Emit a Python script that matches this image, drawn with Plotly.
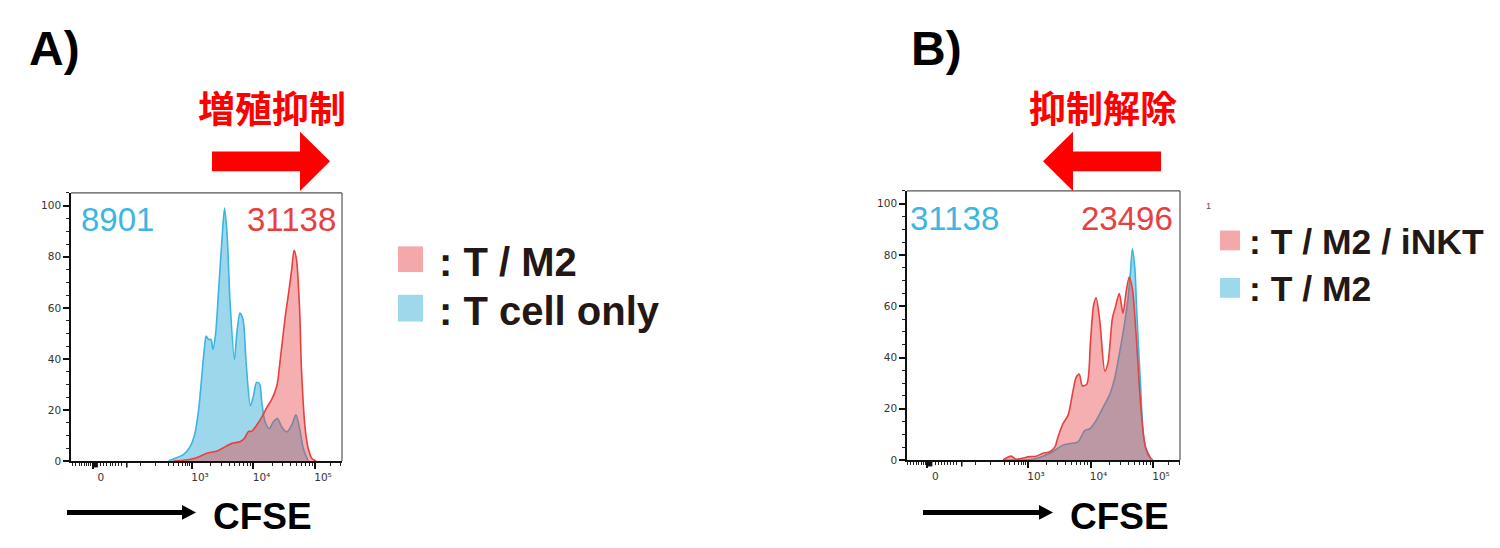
import math
import plotly.graph_objects as go

# ---------------- data (x = decade position on biexponential CFSE axis, y = % of max) -------------
a_blue_x = [2.62, 2.70, 2.865, 2.97, 3.04, 3.11, 3.16, 3.20, 3.23, 3.27, 3.31, 3.34, 3.38, 3.43, 3.49,
            3.53, 3.57, 3.62, 3.69, 3.73, 3.78, 3.83, 3.88, 3.95, 4.00, 4.05, 4.10, 4.135, 4.19, 4.26,
            4.32, 4.39, 4.46, 4.54, 4.62, 4.69, 4.75, 4.81, 4.89]
a_blue_y = [0, 0.8, 2.6, 5.6, 10, 20.4, 33.4, 43.7, 48.9, 47.6, 47.6, 43.7, 48.9, 65.7, 87.7,
            99.1, 89, 61.8, 39.8, 50.2, 58, 55.4, 38.6, 21.7, 25.6, 30.8, 30.1, 23, 15.3, 12.7,
            15.3, 16.6, 13.3, 11.4, 14, 18.1, 12.7, 4.9, 0]
a_red_x = [2.70, 2.865, 3.03, 3.135, 3.24, 3.41, 3.51, 3.65, 3.78, 3.85, 3.92, 3.97, 4.05, 4.135,
           4.22, 4.30, 4.38, 4.43, 4.51, 4.57, 4.62, 4.66, 4.70, 4.75, 4.78, 4.84, 4.89, 4.95, 5.02]
a_red_y = [0, 0.3, 1, 1.9, 3, 3.9, 5.2, 6.9, 7.5, 8.8, 11.6, 11.6, 14, 17.2,
           21.1, 24.3, 29.5, 38.6, 55.4, 65.7, 74.8, 82.5, 78.7, 59.2, 36, 12.7, 4.9, 1, 0]

b_blue_x = [2.60, 2.92, 3.13, 3.35, 3.56, 3.67, 3.80, 3.91, 3.99, 4.09, 4.23, 4.31, 4.39, 4.47,
            4.55, 4.60, 4.64, 4.67, 4.71, 4.74, 4.80, 4.85, 4.92, 5.00]
b_blue_y = [0, 0, 0.6, 2.6, 5.8, 6.4, 7.1, 11.6, 12.2, 15.4, 21.9, 25.7, 32.2, 42.5,
            54, 63, 73.4, 82.4, 74.6, 57.9, 29.6, 9, 1.9, 0]
b_red_x = [2.60, 2.73, 2.81, 2.89, 3.03, 3.13, 3.24, 3.35, 3.43, 3.48, 3.56, 3.64, 3.72, 3.77,
           3.82, 3.87, 3.94, 4.00, 4.05, 4.09, 4.15, 4.23, 4.28, 4.35, 4.40, 4.46, 4.52, 4.57,
           4.62, 4.67, 4.73, 4.81, 4.88, 4.97]
b_red_y = [0, 1.5, 0.3, 0.6, 1.3, 1.5, 2.6, 3.2, 5.1, 9, 14.2, 17.4, 27, 32.2,
           33.5, 29, 29.6, 46.3, 60.5, 63.3, 54, 34.7, 38, 55.3, 59.8, 65, 57.3, 65.6,
           71.4, 66.9, 48.9, 19.3, 5.1, 0.3]

a_stats = ["8901", "31138"]
b_stats = ["31138", "23496"]
a_names = [": T / M2", ": T cell only"]
b_names = [": T / M2 / iNKT", ": T / M2"]
x_tick_vals = [1.39, 3, 4, 5]
x_tick_text = ["0", "10³", "10⁴", "10⁵"]
y_tick_vals = [0, 20, 40, 60, 80, 100]

# ---------------- styling ----------------
W, H = 1500, 548
OFF = 8  # page body margin in the rendered page
BLUE_LINE = "#3BB4E5"
BLUE_FILL = "rgba(60,175,215,0.5)"
RED_LINE = "#E8403F"
RED_FILL = "rgba(232,64,66,0.42)"
STAT_BLUE = "#3DB6E3"
STAT_RED = "#E8403F"
INK = "#231815"


def fx(p):
    return (p - OFF) / W


def fy(p):
    return 1 - (p - OFF) / H


fig = go.Figure()


def add_curve(x, y, line, fill, xa, ya, name):
    fig.add_trace(go.Scatter(x=x, y=y, mode="lines", fill="tozeroy", fillcolor=fill,
                             line=dict(color=line, width=1.6, shape="spline", smoothing=0.8),
                             xaxis=xa, yaxis=ya, name=name, showlegend=False,
                             hoverinfo="skip"))


add_curve(a_blue_x, a_blue_y, BLUE_LINE, BLUE_FILL, "x", "y", "T cell only")
add_curve(a_red_x, a_red_y, RED_LINE, RED_FILL, "x", "y", "T / M2")
add_curve(b_blue_x, b_blue_y, BLUE_LINE, BLUE_FILL, "x2", "y2", "T / M2")
add_curve(b_red_x, b_red_y, RED_LINE, RED_FILL, "x2", "y2", "T / M2 / iNKT")

minor_x = [1.065, 1.114, 1.163, 1.211, 1.252, 1.293, 1.325, 1.358,
           1.520, 1.569, 1.618, 1.667, 1.715, 1.764, 1.813, 1.862,
           2.16, 2.40, 2.62, 2.70, 2.78, 2.84, 2.89, 2.93, 2.96]
minor_x += [d + math.log10(k) for d in (3, 4) for k in range(2, 10)]
minor_x += [5.25, 5.42]

tickfont = dict(family="DejaVu Sans, Liberation Sans, Arial", size=10.5, color="#333")


def xaxis(domain, rng, anchor):
    return dict(domain=domain, range=rng, anchor=anchor, showgrid=False, zeroline=False,
                showline=True, linecolor="#111", linewidth=1.6,
                tickmode="array", tickvals=x_tick_vals, ticktext=x_tick_text,
                ticks="outside", ticklen=6, tickwidth=1.5, tickcolor="#111",
                ticklabelshift=8, tickfont=tickfont,
                minor=dict(tickmode="array", tickvals=minor_x, ticks="outside",
                           ticklen=3, tickwidth=1, tickcolor="#222"))


def yaxis(domain, anchor):
    return dict(domain=domain, range=[0, 105], anchor=anchor, showgrid=False, zeroline=False,
                showline=True, linecolor="#111", linewidth=1.6,
                tickmode="array", tickvals=y_tick_vals,
                ticks="outside", ticklen=6, tickwidth=1.6, tickcolor="#111",
                tickfont=tickfont,
                minor=dict(tick0=0, dtick=5, ticks="outside", ticklen=3, tickwidth=1,
                           tickcolor="#222"))


fig.update_layout(
    width=W, height=H, autosize=False,
    margin=dict(l=0, r=0, t=0, b=0),
    paper_bgcolor="white", plot_bgcolor="white",
    xaxis=xaxis([fx(71), fx(342)], [1.033, 5.439], "y"),
    yaxis=yaxis([fy(466), fy(195)], "x"),
    xaxis2=xaxis([fx(907), fx(1180)], [1.064, 5.432], "y2"),
    yaxis2=yaxis([fy(465), fy(193)], "x2"),
)

shapes = []
for xa, ya in (("x", "y"), ("x2", "y2")):
    xr, yr = xa + " domain", ya + " domain"
    # top/right grey frame lines
    shapes.append(dict(type="line", xref=xr, yref=yr, x0=0, x1=1, y0=1, y1=1,
                       line=dict(color="#555", width=1.2)))
    shapes.append(dict(type="line", xref=xr, yref=yr, x0=1, x1=1, y0=0, y1=1,
                       line=dict(color="#555", width=1.2)))
    # thick zero-region mark and unlabeled major tick below the x axis
    shapes.append(dict(type="rect", xref=xa, yref=yr, x0=1.39, x1=1.47, y0=-0.024, y1=0,
                       fillcolor="#111", line=dict(width=0)))
    shapes.append(dict(type="line", xref=xa, yref=yr, x0=1.94, x1=1.94, y0=-0.024, y1=0,
                       line=dict(color="#111", width=1.5)))


def poly(points, color):
    path = "M " + " L ".join(f"{fx(x):.5f},{fy(y):.5f}" for x, y in points) + " Z"
    return dict(type="path", xref="paper", yref="paper", path=path,
                fillcolor=color, line=dict(width=0), layer="above")


# red arrows
shapes.append(poly([(212, 153), (300, 153), (300, 133), (330, 163), (300, 193), (300, 173),
                    (212, 173)], "#FF0000"))
shapes.append(poly([(1161, 153), (1073, 153), (1073, 133), (1043, 163), (1073, 193), (1073, 173),
                    (1161, 173)], "#FF0000"))
# black arrows under axes
for x0, x1 in ((67, 196), (923, 1053)):
    shapes.append(poly([(x0, 515.5), (x1 - 14, 515.5), (x1 - 14, 510.5), (x1, 518),
                        (x1 - 14, 525.5), (x1 - 14, 520.5), (x0, 520.5)], "#000000"))
# legend squares
shapes.append(dict(type="rect", xref="paper", yref="paper", x0=fx(398), x1=fx(423),
                   y0=fy(275), y1=fy(249), fillcolor="#F4A8AA", line=dict(width=0)))
shapes.append(dict(type="rect", xref="paper", yref="paper", x0=fx(398), x1=fx(423),
                   y0=fy(325), y1=fy(298), fillcolor="#9ED8EB", line=dict(width=0)))
shapes.append(dict(type="rect", xref="paper", yref="paper", x0=fx(1220), x1=fx(1240),
                   y0=fy(253), y1=fy(233), fillcolor="#F4A8AA", line=dict(width=0)))
shapes.append(dict(type="rect", xref="paper", yref="paper", x0=fx(1220), x1=fx(1240),
                   y0=fy(301), y1=fy(281), fillcolor="#9ED8EB", line=dict(width=0)))
fig.update_layout(shapes=shapes)

ARIAL = "Liberation Sans, Arial, Helvetica, sans-serif"
CJK = "Noto Sans CJK JP, Noto Sans CJK SC, sans-serif"


def note(text, x, y, size, color, family=ARIAL, xanchor="center", weight="normal"):
    fig.add_annotation(text=text, xref="paper", yref="paper", x=fx(x), y=fy(y),
                       xanchor=xanchor, yanchor="middle", showarrow=False,
                       font=dict(family=family, size=size, color=color, weight=weight),
                       borderpad=0)


note("A)", 28, 49, 48, "#000", xanchor="left", weight="bold")
note("B)", 910, 49, 48, "#000", xanchor="left", weight="bold")
note("増殖抑制", 271.5, 108, 37, "#FF0000", family=CJK, weight="bold")
note("抑制解除", 1103, 108, 37, "#FF0000", family=CJK, weight="bold")

note(a_stats[0], 80, 222, 33, STAT_BLUE, xanchor="left")
note(a_stats[1], 337, 222, 33, STAT_RED, xanchor="right")
note(b_stats[0], 909, 221, 33, STAT_BLUE, xanchor="left")
note(b_stats[1], 1174, 221, 33, STAT_RED, xanchor="right")

note(a_names[0], 438, 265, 40, INK, xanchor="left", weight="bold")
note(a_names[1], 438, 314, 40, INK, xanchor="left", weight="bold")
note(b_names[0], 1248, 245, 35.5, INK, xanchor="left", weight="bold")
note(b_names[1], 1248, 292, 35.5, INK, xanchor="left", weight="bold")

note("CFSE", 262.5, 522, 37, "#000", weight="bold")
note("CFSE", 1119, 522, 37, "#000", weight="bold")
note("1", 1208, 208, 9, "#555")

fig.write_html("out.html")
